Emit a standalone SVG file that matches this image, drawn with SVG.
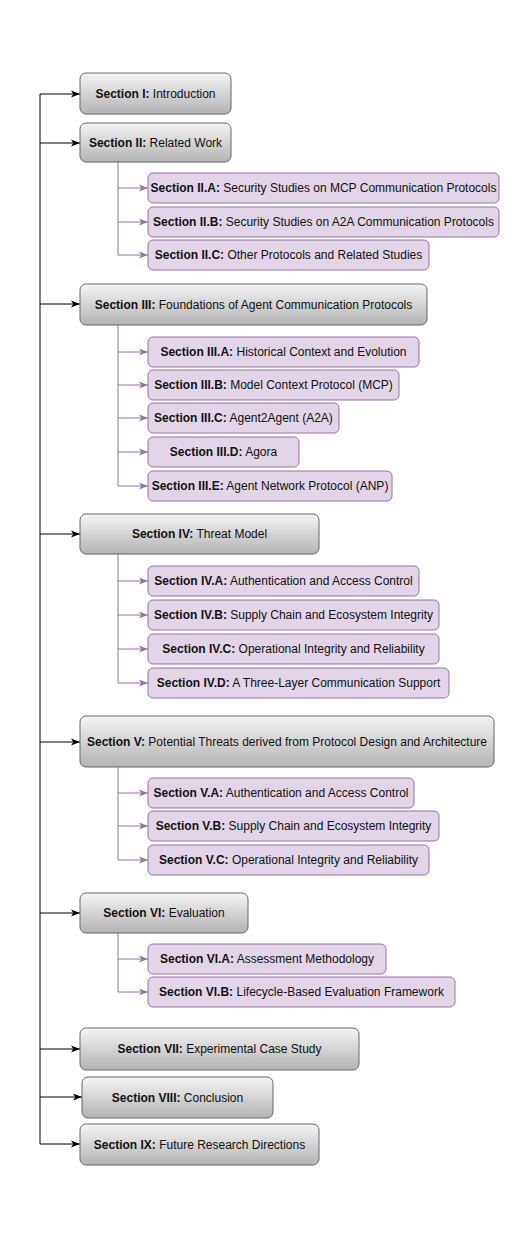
<svg xmlns="http://www.w3.org/2000/svg" width="532" height="1238" viewBox="0 0 532 1238">
<style>
.main rect{fill:url(#g);stroke:#666666;stroke-width:1}
.sub rect{fill:#e1d5e7;stroke:#9673a6;stroke-width:1}
text{font-family:"Liberation Sans",Arial,sans-serif;font-size:12px;fill:#111;text-anchor:middle;dominant-baseline:central}
.b{font-weight:bold}
.mc{fill:none;stroke:#000;stroke-width:1}
.sc{fill:none;stroke:#9673a6;stroke-width:1}
.ma{fill:none;stroke:#000;stroke-width:1;marker-end:url(#am)}
.sa{fill:none;stroke:#9673a6;stroke-width:1;marker-end:url(#as)}
</style>
<defs>
<linearGradient id="g" x1="0" y1="0" x2="0" y2="1">
<stop offset="0" stop-color="#f5f5f5"/>
<stop offset="1" stop-color="#b3b3b3"/>
</linearGradient>
<marker id="am" markerUnits="userSpaceOnUse" markerWidth="10" markerHeight="8" refX="9" refY="4" orient="auto">
<path d="M0,0.5 L9,4 L0,7.5 L2.3,4 Z" fill="#000"/>
</marker>
<marker id="as" markerUnits="userSpaceOnUse" markerWidth="10" markerHeight="8" refX="9" refY="4" orient="auto">
<path d="M0,0.5 L9,4 L0,7.5 L2.3,4 Z" fill="#9673a6"/>
</marker>
</defs>
<rect width="532" height="1238" fill="#fff"/>
<g id="connectors">
<path class="mc" d="M40,94 V1144"/>
<path class="ma" d="M40,94 H80"/>
<path class="ma" d="M40,143 H80"/>
<path class="ma" d="M40,304 H80"/>
<path class="ma" d="M40,534 H80"/>
<path class="ma" d="M40,742 H80"/>
<path class="ma" d="M40,913 H80"/>
<path class="ma" d="M40,1049 H80"/>
<path class="ma" d="M40,1097 H82"/>
<path class="ma" d="M40,1144 H80"/>
<path class="sc" d="M118,162 V255"/>
<path class="sa" d="M118,188 H148"/>
<path class="sa" d="M118,222 H148"/>
<path class="sa" d="M118,255 H148"/>
<path class="sc" d="M118,325 V486"/>
<path class="sa" d="M118,352 H148"/>
<path class="sa" d="M118,385 H148"/>
<path class="sa" d="M118,418 H148"/>
<path class="sa" d="M118,452 H148"/>
<path class="sa" d="M118,486 H148"/>
<path class="sc" d="M118,554 V683"/>
<path class="sa" d="M118,581 H148"/>
<path class="sa" d="M118,615 H148"/>
<path class="sa" d="M118,649 H148"/>
<path class="sa" d="M118,683 H148"/>
<path class="sc" d="M118,767 V860"/>
<path class="sa" d="M118,793 H148"/>
<path class="sa" d="M118,826 H148"/>
<path class="sa" d="M118,860 H148"/>
<path class="sc" d="M118,933 V992"/>
<path class="sa" d="M118,959 H148"/>
<path class="sa" d="M118,992 H148"/>
</g>
<g id="s1" class="main"><rect x="80" y="73" width="151" height="41" rx="6"/><text x="155.5" y="93.5"><tspan class="b">Section I:</tspan> Introduction</text></g>
<g id="s2" class="main"><rect x="80" y="123" width="151" height="39" rx="6"/><text x="155.5" y="142.5"><tspan class="b">Section II:</tspan> Related Work</text></g>
<g id="s2a" class="sub"><rect x="148" y="173" width="351" height="30" rx="5"/><text x="323.5" y="188"><tspan class="b">Section II.A:</tspan> Security Studies on MCP Communication Protocols</text></g>
<g id="s2b" class="sub"><rect x="148" y="207" width="351" height="30" rx="5"/><text x="323.5" y="222"><tspan class="b">Section II.B:</tspan> Security Studies on A2A Communication Protocols</text></g>
<g id="s2c" class="sub"><rect x="148" y="240" width="281" height="30" rx="5"/><text x="288.5" y="255"><tspan class="b">Section II.C:</tspan> Other Protocols and Related Studies</text></g>
<g id="s3" class="main"><rect x="80" y="284" width="347" height="41" rx="6"/><text x="253.5" y="304.5"><tspan class="b">Section III:</tspan> Foundations of Agent Communication Protocols</text></g>
<g id="s3a" class="sub"><rect x="148" y="337" width="271" height="30" rx="5"/><text x="283.5" y="352"><tspan class="b">Section III.A:</tspan> Historical Context and Evolution</text></g>
<g id="s3b" class="sub"><rect x="148" y="370" width="251" height="30" rx="5"/><text x="273.5" y="385"><tspan class="b">Section III.B:</tspan> Model Context Protocol (MCP)</text></g>
<g id="s3c" class="sub"><rect x="148" y="403" width="191" height="30" rx="5"/><text x="243.5" y="418"><tspan class="b">Section III.C:</tspan> Agent2Agent (A2A)</text></g>
<g id="s3d" class="sub"><rect x="148" y="437" width="151" height="30" rx="5"/><text x="223.5" y="452"><tspan class="b">Section III.D:</tspan> Agora</text></g>
<g id="s3e" class="sub"><rect x="148" y="471" width="244" height="30" rx="5"/><text x="270" y="486"><tspan class="b">Section III.E:</tspan> Agent Network Protocol (ANP)</text></g>
<g id="s4" class="main"><rect x="80" y="514" width="239" height="40" rx="6"/><text x="199.5" y="534"><tspan class="b">Section IV:</tspan> Threat Model</text></g>
<g id="s4a" class="sub"><rect x="148" y="566" width="271" height="30" rx="5"/><text x="283.5" y="581"><tspan class="b">Section IV.A:</tspan> Authentication and Access Control</text></g>
<g id="s4b" class="sub"><rect x="148" y="600" width="291" height="30" rx="5"/><text x="293.5" y="615"><tspan class="b">Section IV.B:</tspan> Supply Chain and Ecosystem Integrity</text></g>
<g id="s4c" class="sub"><rect x="148" y="634" width="291" height="30" rx="5"/><text x="293.5" y="649"><tspan class="b">Section IV.C:</tspan> Operational Integrity and Reliability</text></g>
<g id="s4d" class="sub"><rect x="148" y="668" width="301" height="30" rx="5"/><text x="298.5" y="683"><tspan class="b">Section IV.D:</tspan> A Three-Layer Communication Support</text></g>
<g id="s5" class="main"><rect x="80" y="716" width="414" height="51" rx="6"/><text x="287" y="741.5"><tspan class="b">Section V:</tspan> Potential Threats derived from Protocol Design and Architecture</text></g>
<g id="s5a" class="sub"><rect x="148" y="778" width="266" height="30" rx="5"/><text x="281" y="793"><tspan class="b">Section V.A:</tspan> Authentication and Access Control</text></g>
<g id="s5b" class="sub"><rect x="148" y="811" width="291" height="30" rx="5"/><text x="293.5" y="826"><tspan class="b">Section V.B:</tspan> Supply Chain and Ecosystem Integrity</text></g>
<g id="s5c" class="sub"><rect x="148" y="845" width="281" height="30" rx="5"/><text x="288.5" y="860"><tspan class="b">Section V.C:</tspan> Operational Integrity and Reliability</text></g>
<g id="s6" class="main"><rect x="80" y="893" width="168" height="40" rx="6"/><text x="164" y="913"><tspan class="b">Section VI:</tspan> Evaluation</text></g>
<g id="s6a" class="sub"><rect x="148" y="944" width="238" height="30" rx="5"/><text x="267" y="959"><tspan class="b">Section VI.A:</tspan> Assessment Methodology</text></g>
<g id="s6b" class="sub"><rect x="148" y="977" width="307" height="30" rx="5"/><text x="301.5" y="992"><tspan class="b">Section VI.B:</tspan> Lifecycle-Based Evaluation Framework</text></g>
<g id="s7" class="main"><rect x="80" y="1028" width="279" height="42" rx="6"/><text x="219.5" y="1049"><tspan class="b">Section VII:</tspan> Experimental Case Study</text></g>
<g id="s8" class="main"><rect x="82" y="1077" width="191" height="41" rx="6"/><text x="177.5" y="1097.5"><tspan class="b">Section VIII:</tspan> Conclusion</text></g>
<g id="s9" class="main"><rect x="80" y="1124" width="239" height="41" rx="6"/><text x="199.5" y="1144.5"><tspan class="b">Section IX:</tspan> Future Research Directions</text></g>
</svg>
